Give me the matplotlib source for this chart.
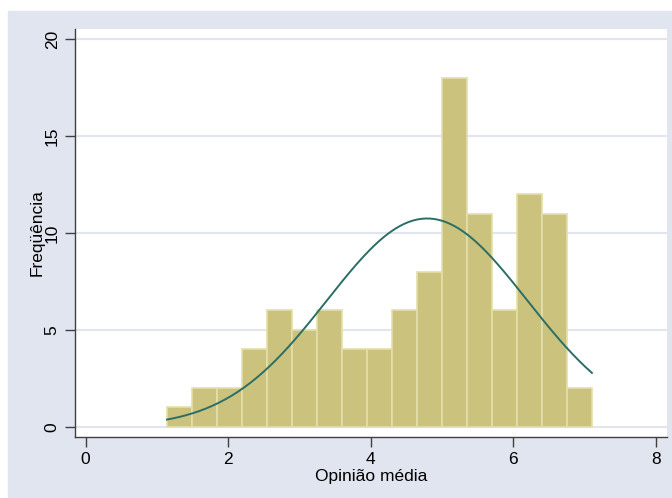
import numpy as np
import matplotlib
matplotlib.use("Agg")
import matplotlib.pyplot as plt
from matplotlib.patches import Rectangle

plt.rcParams["font.family"] = ["Liberation Sans", "DejaVu Sans"]

# histograma: 17 classes de largura igual, de 1.141 a 7.106
bin_start = 1.141
bin_end = 7.106
counts = [1, 2, 2, 4, 6, 5, 6, 4, 4, 6, 8, 18, 11, 6, 12, 11, 2]
x_ticks = [0, 2, 4, 6, 8]
y_ticks = [0, 5, 10, 15, 20]

edges = np.linspace(bin_start, bin_end, len(counts) + 1)
width = edges[1] - edges[0]
centers = edges[:-1] + width / 2

# curva normal com média e desvio calculados das classes
n = sum(counts)
mu = np.average(centers, weights=counts)
sd = np.sqrt(np.average((centers - mu) ** 2, weights=counts))
xs = np.linspace(bin_start, bin_end, 200)
ys = n * width / (sd * np.sqrt(2 * np.pi)) * np.exp(-0.5 * ((xs - mu) / sd) ** 2)

fig = plt.figure(figsize=(6.72, 4.98), dpi=100)
fig.patch.set_facecolor("white")
bg = Rectangle((8 / 672, 0), 664 / 672, 487 / 498,
               transform=fig.transFigure, color="#E1E5EF", zorder=-1)
fig.add_artist(bg)

ax = fig.add_axes([75 / 672, 1 - 437 / 498, 592 / 672, 408 / 498])
ax.set_zorder(1)
ax.set_facecolor("white")

ax.bar(edges[:-1], counts, width=width, align="edge",
       color="#CBC37D", edgecolor="#E4DFAA", linewidth=1.2, zorder=2)
ax.plot(xs, ys, color="#2B6E66", lw=1.4, zorder=3)

ax.set_xlim(-0.15, 8.16)
ax.set_ylim(-0.53, 20.53)
ax.set_xticks(x_ticks)
ax.set_yticks(y_ticks)
ax.grid(axis="y", color="#E1E5EF", lw=1.5, zorder=0)
ax.set_axisbelow(True)

for s in ["top", "right"]:
    ax.spines[s].set_visible(False)
for s in ["left", "bottom"]:
    ax.spines[s].set_color("#404040")
    ax.spines[s].set_linewidth(1.0)

ax.tick_params(axis="both", colors="#404040", labelcolor="black",
               length=7, width=1.0, labelsize=12.5, pad=4)
plt.setp(ax.get_yticklabels(), rotation=90, va="center")

ax.set_xlabel("Opinião média", fontsize=12.5, labelpad=1)
ax.set_ylabel("Freqüência", fontsize=12.5, labelpad=0)

fig.savefig("out.png", dpi=100, facecolor=fig.get_facecolor())
